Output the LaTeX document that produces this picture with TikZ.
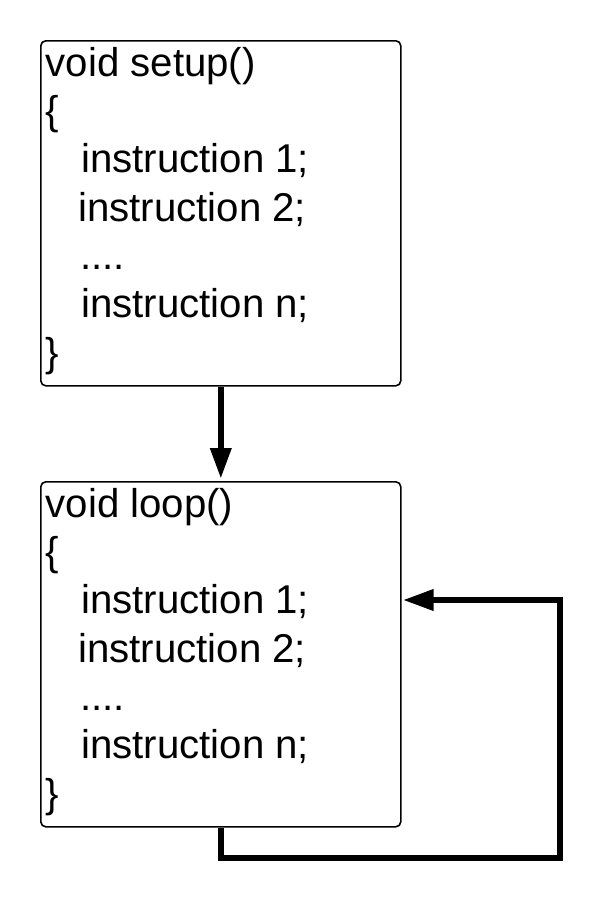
\documentclass[tikz,border=0pt]{standalone}
\usepackage{fontspec}
\setmainfont{Liberation Sans}
\usetikzlibrary{arrows.meta}
\begin{document}
\begin{tikzpicture}[x=1pt,y=-1pt,
  codebox/.style={draw=black, line width=1.6pt, rounded corners=5pt, fill=white,
    minimum width=360pt, minimum height=345pt, anchor=north west, inner sep=0pt},
  codetext/.style={anchor=north west, inner sep=0pt, align=left,
    font={\fontsize{40.2}{48.3}\selectfont}},
  flow/.style={line width=6.5pt, line join=miter,
    -{Triangle[length=31pt,width=20pt]}}
]
\useasboundingbox (0,0) rectangle (600,900);
\fill[white] (0,0) rectangle (600,900);

\node[codebox] (setup) at (40,40) {};
\node[codetext] (setupcode) at (45.5,46) {\rule{0pt}{30pt}void setup()\\
{\char`\{}\\
\hspace*{35.5pt}instruction 1;\\
\hspace*{32.5pt}instruction 2;\\
\hspace*{34.5pt}....\\
\hspace*{35.5pt}instruction n;\\
{\char`\}}};

\node[codebox] (loop) at (40,481) {};
\node[codetext] (loopcode) at (45.5,487) {\rule{0pt}{30pt}void loop()\\
{\char`\{}\\
\hspace*{35.5pt}instruction 1;\\
\hspace*{32.5pt}instruction 2;\\
\hspace*{34.5pt}....\\
\hspace*{35.5pt}instruction n;\\
{\char`\}}};

\coordinate (bottom) at (560,858);
\coordinate (back) at (560,600);

\draw[flow, shorten >=2pt] (setup.south) -- (loop.north);
\draw[flow, shorten >=1pt] (loop.south) |- (bottom) -- (back) -- (back -| loop.east);
\end{tikzpicture}
\end{document}
